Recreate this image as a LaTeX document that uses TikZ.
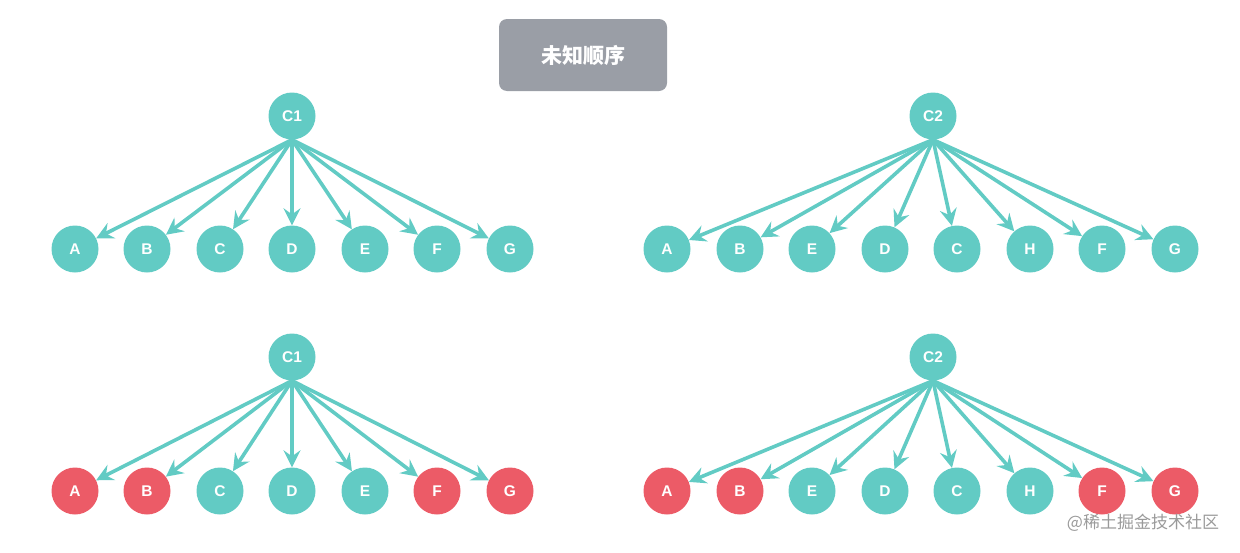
\documentclass[tikz,border=0pt]{standalone}
\usepackage{fontspec}
\setmainfont{Liberation Sans}
\newfontfamily\cjk{Noto Sans CJK SC}
\usetikzlibrary{arrows.meta}
\definecolor{tealColor}{HTML}{62CBC4}
\definecolor{redColor}{HTML}{EC5B67}
\definecolor{boxColor}{HTML}{9A9EA6}
\definecolor{markColor}{HTML}{9A9A9A}

\begin{document}
\begin{tikzpicture}[x=1pt,y=-1pt]

            \tikzstyle{vertex} = [circle, fill=tealColor, minimum size=47pt, inner sep=0pt, text=white, font=\fontsize{15.5}{15.5}\selectfont\bfseries];
            \tikzstyle{removed} = [vertex, fill=redColor];
            \tikzstyle{edge} = [draw=tealColor, line width=3.6pt, -{Stealth[length=17pt,width=17pt,inset=6pt]}];

            \useasboundingbox (0,0) rectangle (1240,552);

            % title
            \node[fill=boxColor, rounded corners=8pt, minimum width=168pt, minimum height=72pt, text=white, font=\cjk\fontsize{21}{21}\selectfont\bfseries] (title) at (583,55) {未知顺序};

            % top left
            \node[vertex] (c1t) at (292,116) {C1};
            \node[vertex] (tlA) at (75,249) {A};
            \node[vertex] (tlB) at (147,249) {B};
            \node[vertex] (tlC) at (220,249) {C};
            \node[vertex] (tlD) at (292,249) {D};
            \node[vertex] (tlE) at (365,249) {E};
            \node[vertex] (tlF) at (437,249) {F};
            \node[vertex] (tlG) at (510,249) {G};

            \draw[edge] (c1t.south) -- (tlA);
            \draw[edge] (c1t.south) -- (tlB);
            \draw[edge] (c1t.south) -- (tlC);
            \draw[edge] (c1t.south) -- (tlD);
            \draw[edge] (c1t.south) -- (tlE);
            \draw[edge] (c1t.south) -- (tlF);
            \draw[edge] (c1t.south) -- (tlG);

            % top right
            \node[vertex] (c2t) at (933,116) {C2};
            \node[vertex] (trA) at (667,249) {A};
            \node[vertex] (trB) at (740,249) {B};
            \node[vertex] (trE) at (812,249) {E};
            \node[vertex] (trD) at (885,249) {D};
            \node[vertex] (trC) at (957,249) {C};
            \node[vertex] (trH) at (1030,249) {H};
            \node[vertex] (trF) at (1102,249) {F};
            \node[vertex] (trG) at (1175,249) {G};

            \draw[edge] (c2t.south) -- (trA);
            \draw[edge] (c2t.south) -- (trB);
            \draw[edge] (c2t.south) -- (trE);
            \draw[edge] (c2t.south) -- (trD);
            \draw[edge] (c2t.south) -- (trC);
            \draw[edge] (c2t.south) -- (trH);
            \draw[edge] (c2t.south) -- (trF);
            \draw[edge] (c2t.south) -- (trG);

            % bottom left
            \node[vertex] (c1b) at (292,357) {C1};
            \node[removed] (blA) at (75,491) {A};
            \node[removed] (blB) at (147,491) {B};
            \node[vertex] (blC) at (220,491) {C};
            \node[vertex] (blD) at (292,491) {D};
            \node[vertex] (blE) at (365,491) {E};
            \node[removed] (blF) at (437,491) {F};
            \node[removed] (blG) at (510,491) {G};

            \draw[edge] (c1b.south) -- (blA);
            \draw[edge] (c1b.south) -- (blB);
            \draw[edge] (c1b.south) -- (blC);
            \draw[edge] (c1b.south) -- (blD);
            \draw[edge] (c1b.south) -- (blE);
            \draw[edge] (c1b.south) -- (blF);
            \draw[edge] (c1b.south) -- (blG);

            % bottom right
            \node[vertex] (c2b) at (933,357) {C2};
            \node[removed] (brA) at (667,491) {A};
            \node[removed] (brB) at (740,491) {B};
            \node[vertex] (brE) at (812,491) {E};
            \node[vertex] (brD) at (885,491) {D};
            \node[vertex] (brC) at (957,491) {C};
            \node[vertex] (brH) at (1030,491) {H};
            \node[removed] (brF) at (1102,491) {F};
            \node[removed] (brG) at (1175,491) {G};

            \draw[edge] (c2b.south) -- (brA);
            \draw[edge] (c2b.south) -- (brB);
            \draw[edge] (c2b.south) -- (brE);
            \draw[edge] (c2b.south) -- (brD);
            \draw[edge] (c2b.south) -- (brC);
            \draw[edge] (c2b.south) -- (brH);
            \draw[edge] (c2b.south) -- (brF);
            \draw[edge] (c2b.south) -- (brG);

            % watermark
            \node[text=markColor, font=\cjk\fontsize{17}{17}\selectfont] (mark) at (1143,523) {@稀土掘金技术社区};
          \end{tikzpicture}
\end{document}
